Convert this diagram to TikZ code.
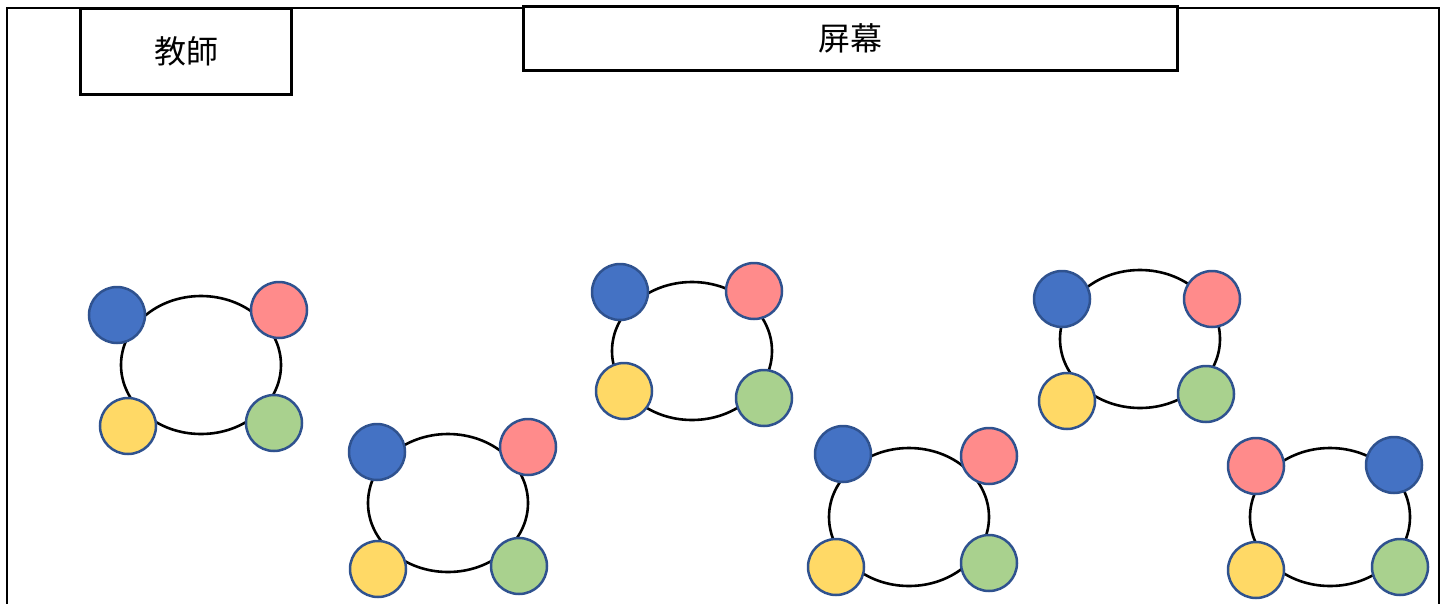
\documentclass[tikz,border=0pt]{standalone}
\usepackage{fontspec}
\newfontfamily\cjk{Noto Sans CJK TC}
\definecolor{sblue}{HTML}{4472C4}
\definecolor{spink}{HTML}{FF8B8B}
\definecolor{syellow}{HTML}{FFD966}
\definecolor{sgreen}{HTML}{A9D18E}
\definecolor{sborder}{HTML}{2F528F}
\usetikzlibrary{shapes.geometric}
\tikzset{
  labelbox/.style={draw=black, line width=2.5pt, fill=white, inner sep=0pt, font=\cjk\fontsize{32}{36}\selectfont},
  tablering/.style={draw=black, line width=2.6pt, ellipse, minimum width=160pt, minimum height=138pt, inner sep=0pt},
  seat/.style={circle, draw=sborder, line width=2.5pt, minimum size=56pt, inner sep=0pt},
}
\begin{document}
\begin{tikzpicture}[x=1pt,y=-1pt]
\useasboundingbox (0,0) rectangle (1449,603);
% outer frame (open at bottom)
\coordinate (fbl) at (7,610);
\coordinate (ftl) at (7,8);
\coordinate (ftr) at (1439,8);
\coordinate (fbr) at (1439,610);
\draw[line width=2.6pt] (fbl) -- (ftl) -- (ftr) -- (fbr);
% labels
\node[labelbox, minimum width=211pt, minimum height=86pt] (teacher) at (186,51.5) {教師};
\node[labelbox, minimum width=654pt, minimum height=64pt] (screen) at (850.5,38.5) {屏幕};
% group 1
\node[tablering] (t1) at (201,365) {};
\node[seat, fill=sblue] (t1a) at (117,315) {};
\node[seat, fill=spink] (t1b) at (279,310) {};
\node[seat, fill=syellow] (t1c) at (128,426) {};
\node[seat, fill=sgreen] (t1d) at (274,423) {};
% group 2
\node[tablering] (t2) at (448,503) {};
\node[seat, fill=sblue] (t2a) at (377,452) {};
\node[seat, fill=spink] (t2b) at (528,447) {};
\node[seat, fill=syellow] (t2c) at (378,569) {};
\node[seat, fill=sgreen] (t2d) at (519,566) {};
% group 3
\node[tablering] (t3) at (692,351) {};
\node[seat, fill=sblue] (t3a) at (620,292) {};
\node[seat, fill=spink] (t3b) at (754,291) {};
\node[seat, fill=syellow] (t3c) at (624,391) {};
\node[seat, fill=sgreen] (t3d) at (764,398) {};
% group 4
\node[tablering] (t4) at (909,517) {};
\node[seat, fill=sblue] (t4a) at (843,454) {};
\node[seat, fill=spink] (t4b) at (989,456) {};
\node[seat, fill=syellow] (t4c) at (836,567) {};
\node[seat, fill=sgreen] (t4d) at (989,563) {};
% group 5
\node[tablering] (t5) at (1140,339) {};
\node[seat, fill=sblue] (t5a) at (1062,299) {};
\node[seat, fill=spink] (t5b) at (1212,299) {};
\node[seat, fill=syellow] (t5c) at (1067,401) {};
\node[seat, fill=sgreen] (t5d) at (1206,394) {};
% group 6
\node[tablering] (t6) at (1330,517) {};
\node[seat, fill=spink] (t6a) at (1256,466) {};
\node[seat, fill=sblue] (t6b) at (1394,465) {};
\node[seat, fill=syellow] (t6c) at (1256,570) {};
\node[seat, fill=sgreen] (t6d) at (1400,567) {};
\end{tikzpicture}
\end{document}
